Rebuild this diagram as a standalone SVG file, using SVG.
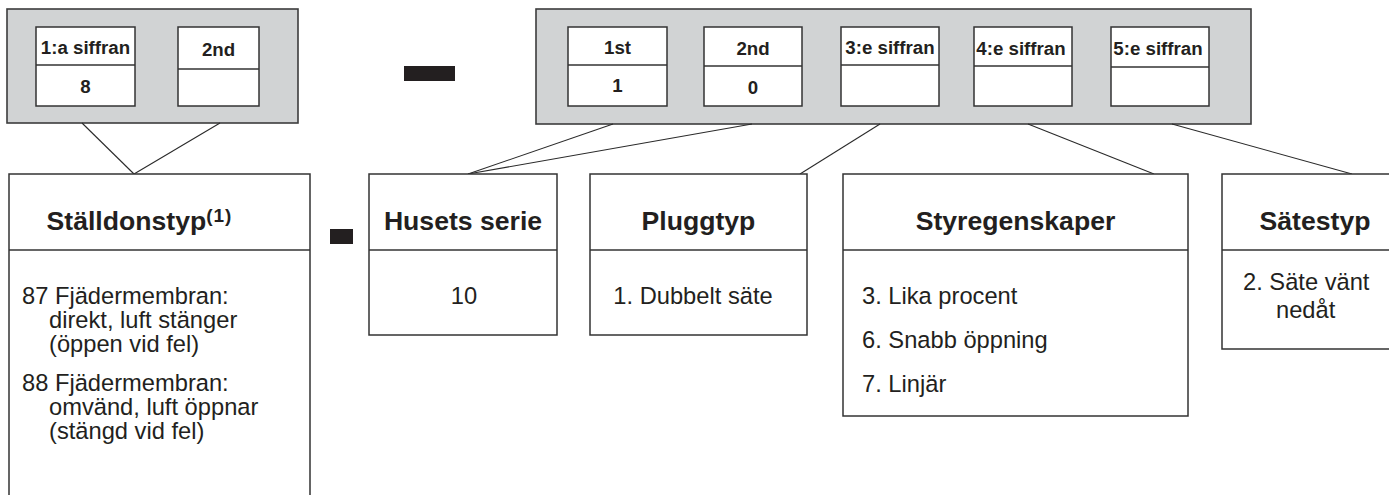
<svg xmlns="http://www.w3.org/2000/svg" width="1389" height="495" viewBox="0 0 1389 495">
  <style>
    .panel { fill: #d1d3d4; stroke: #3c3c3c; stroke-width: 1.6; }
    .box { fill: #ffffff; stroke: #333333; stroke-width: 1.5; }
    .div { stroke: #333333; stroke-width: 1.5; fill: none; }
    .wire { stroke: #2a2a2a; stroke-width: 1.1; fill: none; }
    .dash { fill: #231f20; }
    .lbl { font-family: "Liberation Sans", Arial, sans-serif; font-weight: bold; font-size: 18.7px; fill: #231f20; text-anchor: middle; }
    .ttl { font-family: "Liberation Sans", Arial, sans-serif; font-weight: bold; font-size: 26.6px; fill: #231f20; text-anchor: middle; }
    .txt { font-family: "Liberation Sans", Arial, sans-serif; font-size: 23.7px; fill: #231f20; }
    .mid { text-anchor: middle; }
  </style>

  <!-- code panel: actuator digits -->
  <g id="panel-actuator">
    <rect class="panel" x="7" y="9" width="291" height="114"/>
    <rect class="box" x="36" y="27" width="99" height="79"/>
    <line class="div" x1="36" y1="65" x2="135" y2="65"/>
    <text class="lbl" x="85.5" y="54">1:a siffran</text>
    <text class="lbl" x="85.5" y="93">8</text>
    <rect class="box" x="178" y="27" width="81" height="79"/>
    <line class="div" x1="178" y1="69" x2="259" y2="69"/>
    <text class="lbl" x="218.5" y="56">2nd</text>
  </g>

  <!-- separator between the two code panels -->
  <rect id="sep-top" class="dash" x="404" y="66" width="51" height="15"/>

  <!-- code panel: body digits -->
  <g id="panel-body">
    <rect class="panel" x="536" y="9" width="715" height="115"/>
    <rect class="box" x="568" y="27" width="99" height="79"/>
    <line class="div" x1="568" y1="65" x2="667" y2="65"/>
    <text class="lbl" x="617.5" y="54">1st</text>
    <text class="lbl" x="617.5" y="92">1</text>
    <rect class="box" x="704" y="27" width="98" height="79"/>
    <line class="div" x1="704" y1="66" x2="802" y2="66"/>
    <text class="lbl" x="753" y="55">2nd</text>
    <text class="lbl" x="753" y="94">0</text>
    <rect class="box" x="841" y="27" width="98" height="79"/>
    <line class="div" x1="841" y1="65" x2="939" y2="65"/>
    <text class="lbl" x="890" y="54">3:e siffran</text>
    <rect class="box" x="974" y="27" width="98" height="79"/>
    <line class="div" x1="974" y1="66" x2="1072" y2="66"/>
    <text class="lbl" x="1021" y="55">4:e siffran</text>
    <rect class="box" x="1111" y="27" width="98" height="79"/>
    <line class="div" x1="1111" y1="67" x2="1209" y2="67"/>
    <text class="lbl" x="1158" y="55">5:e siffran</text>
  </g>

  <!-- connectors from digit panels to description boxes -->
  <g id="connectors">
    <line class="wire" x1="82" y1="123" x2="134" y2="174"/>
    <line class="wire" x1="220" y1="123" x2="134" y2="174"/>
    <line class="wire" x1="613" y1="124" x2="468" y2="174"/>
    <line class="wire" x1="752" y1="124" x2="468" y2="174"/>
    <line class="wire" x1="880" y1="124" x2="800" y2="174"/>
    <line class="wire" x1="1028" y1="124" x2="1154" y2="174"/>
    <line class="wire" x1="1172" y1="124" x2="1352" y2="174"/>
  </g>

  <!-- Ställdonstyp (box continues below the bottom edge) -->
  <g id="node-stalldonstyp">
    <path class="box" d="M9 497 V174 H310 V497"/>
    <line class="div" x1="9" y1="250" x2="310" y2="250"/>
    <text class="ttl" x="139.5" y="230">Ställdonstyp<tspan font-size="19" letter-spacing="1" dy="-8">(1)</tspan></text>
    <text class="txt" x="22" y="304">87 Fjädermembran:</text>
    <text class="txt" x="49" y="328">direkt, luft stänger</text>
    <text class="txt" x="49" y="352">(öppen vid fel)</text>
    <text class="txt" x="22" y="391">88 Fjädermembran:</text>
    <text class="txt" x="49" y="415">omvänd, luft öppnar</text>
    <text class="txt" x="49" y="439">(stängd vid fel)</text>
  </g>

  <!-- separator between the description rows -->
  <rect id="sep-bottom" class="dash" x="330" y="229" width="23" height="15"/>

  <g id="node-husets-serie">
    <rect class="box" x="369" y="174" width="188" height="161"/>
    <line class="div" x1="369" y1="250" x2="557" y2="250"/>
    <text class="ttl" x="463" y="230">Husets serie</text>
    <text class="txt mid" x="464" y="304">10</text>
  </g>

  <g id="node-pluggtyp">
    <rect class="box" x="590" y="174" width="217" height="161"/>
    <line class="div" x1="590" y1="250" x2="807" y2="250"/>
    <text class="ttl" x="698.5" y="230">Pluggtyp</text>
    <text class="txt mid" x="693" y="304">1. Dubbelt säte</text>
  </g>

  <g id="node-styregenskaper">
    <rect class="box" x="843" y="174" width="345" height="242"/>
    <line class="div" x1="843" y1="250" x2="1188" y2="250"/>
    <text class="ttl" x="1015.5" y="230">Styregenskaper</text>
    <text class="txt" x="862" y="304">3. Lika procent</text>
    <text class="txt" x="862" y="348">6. Snabb öppning</text>
    <text class="txt" x="862" y="392">7. Linjär</text>
  </g>

  <!-- Sätestyp (box runs past the right edge) -->
  <g id="node-satestyp">
    <path class="box" d="M1391 174 H1222 V349 H1391"/>
    <line class="div" x1="1222" y1="250" x2="1391" y2="250"/>
    <text class="ttl" x="1315" y="230">Sätestyp</text>
    <text class="txt" x="1243" y="290">2. Säte vänt</text>
    <text class="txt" x="1276" y="318">nedåt</text>
  </g>
</svg>
